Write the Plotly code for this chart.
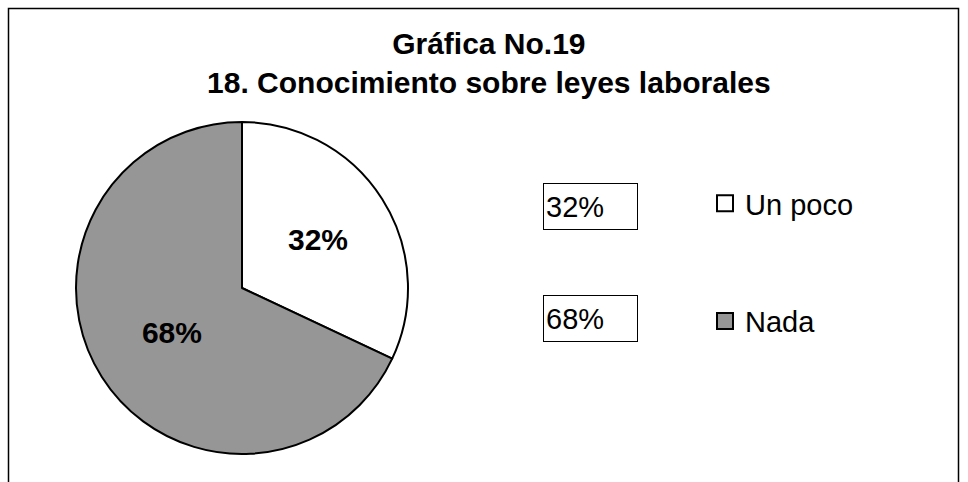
import plotly.graph_objects as go

labels = ['Un poco', 'Nada']
values = [32, 68]
colors = ['#FFFFFF', '#969696']

W, H = 968, 482
FONT = 'Liberation Sans, Arial, sans-serif'


def px_x(p):
    return p / W


def px_y(p):
    return 1 - p / H


fig = go.Figure()

fig.add_trace(go.Pie(
    labels=labels, values=values,
    sort=False, direction='clockwise', rotation=0,
    marker=dict(colors=colors, line=dict(color='black', width=2)),
    texttemplate='%{value}%', textposition='inside',
    insidetextorientation='horizontal',
    textfont=dict(size=30, color='black', family=FONT, weight='bold'),
    domain=dict(x=[px_x(76), px_x(408)], y=[px_y(454), px_y(122)]),
    showlegend=False, hoverinfo='label+percent',
))

# legend entries, one group each so the gap matches the original spacing
for lab, col in zip(labels, colors):
    fig.add_trace(go.Scatter(
        x=[None], y=[None], mode='markers', name=lab, legendgroup=lab,
        marker=dict(symbol='square', size=16, color=col, line=dict(color='black', width=2)),
    ))

# value boxes beside the legend
for i, v in enumerate(values):
    fig.add_annotation(
        xref='paper', yref='paper', x=px_x(543), y=px_y(206 + i * 112),
        xanchor='left', yanchor='middle', text=f'{v}%', showarrow=False,
        width=89, height=41, align='left', valign='middle',
        bordercolor='black', borderwidth=1, borderpad=2,
        font=dict(size=29, color='black', family=FONT),
    )

fig.update_layout(
    width=W, height=H,
    margin=dict(l=0, r=0, t=0, b=0),
    paper_bgcolor='white', plot_bgcolor='white',
    font=dict(family=FONT, color='black', size=29),
    title=dict(text='Gráfica No.19<br>18. Conocimiento sobre leyes laborales',
               x=0.505, xanchor='center', y=px_y(54), yanchor='top',
               font=dict(size=30, family=FONT, weight='bold', color='black')),
    xaxis=dict(visible=False), yaxis=dict(visible=False),
    legend=dict(x=px_x(705), y=px_y(178), xanchor='left', yanchor='top',
                font=dict(size=29, family=FONT), tracegroupgap=77,
                itemwidth=30, bgcolor='rgba(0,0,0,0)'),
    shapes=[dict(type='rect', xref='paper', yref='paper',
                 x0=px_x(8.5), x1=px_x(958.5), y0=px_y(495), y1=px_y(8.5),
                 line=dict(color='black', width=1.5), fillcolor='rgba(0,0,0,0)')],
)

fig.write_html('out.html', config={'displayModeBar': False},
               post_script="document.body.style.margin='0';")
